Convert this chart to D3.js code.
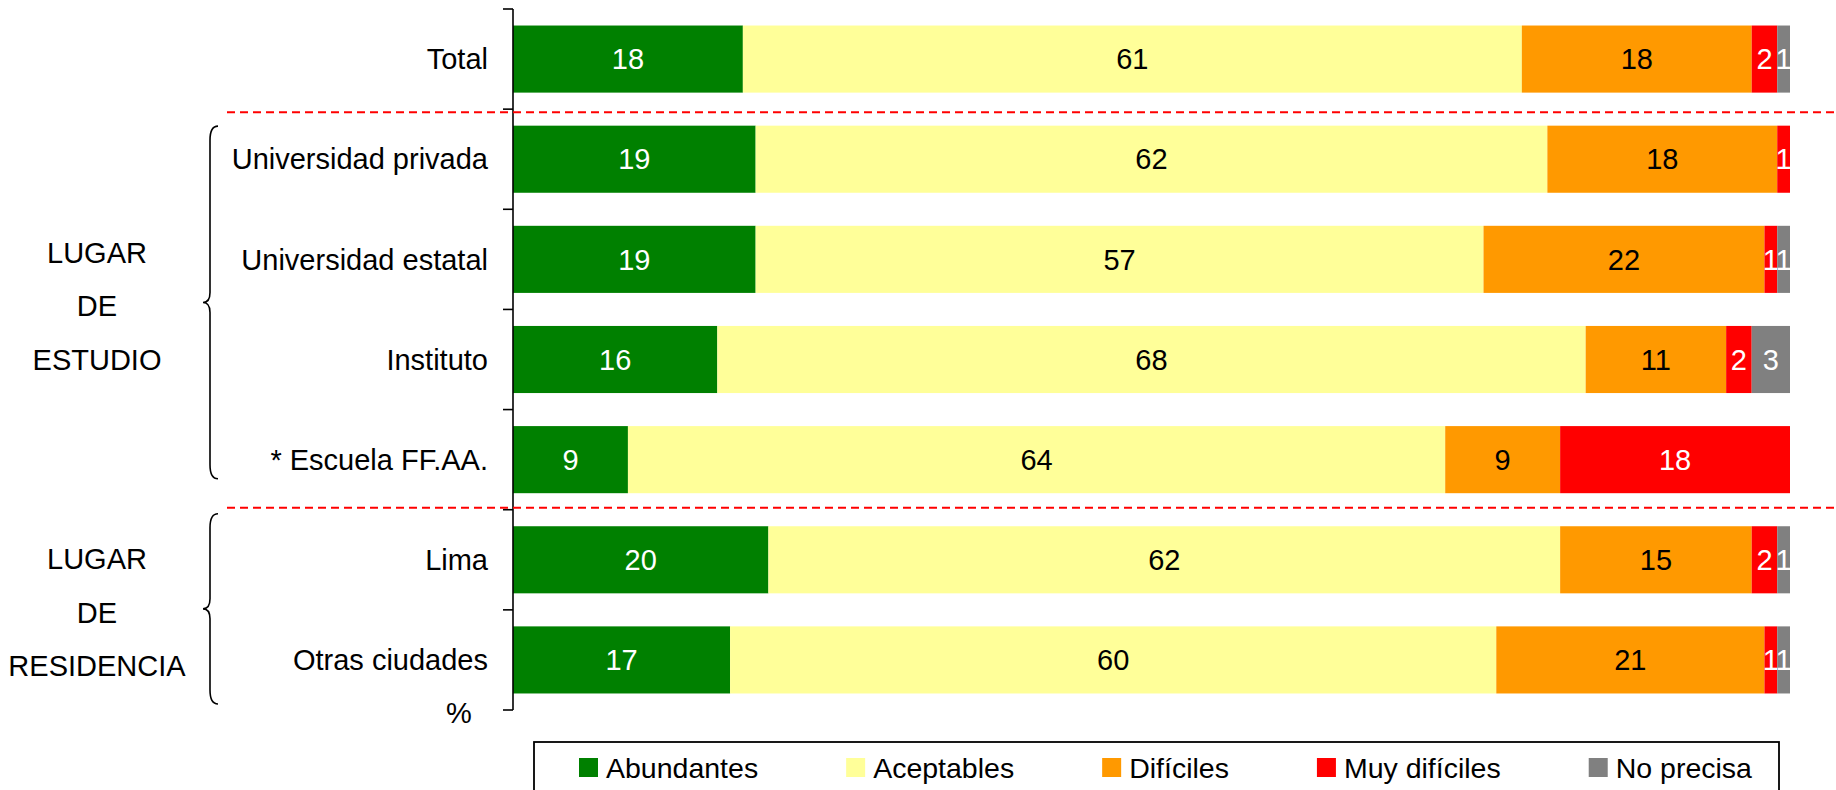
<!DOCTYPE html>
<html>
<head>
<meta charset="utf-8">
<script src="https://cdn.jsdelivr.net/npm/d3@7"></script>
<style>
  body { margin: 0; background: #fff; }
  text { font-family: "Liberation Sans", Arial, sans-serif; font-size: 29px; }
  .legend text { font-size: 28.5px; }
</style>
</head>
<body>
<script>
// categories (top to bottom)
var categories = ["Total", "Universidad privada", "Universidad estatal", "Instituto", "* Escuela FF.AA.", "Lima", "Otras ciudades"]
var series = ["Abundantes", "Aceptables", "Difíciles", "Muy difíciles", "No precisa"]
var colors = ["#008000", "#FFFF99", "#FF9900", "#FF0000", "#808080"]
var labelColors = ["#fff", "#000", "#000", "#fff", "#fff"]

// % values per series
var abundantes = [18, 19, 19, 16, 9, 20, 17]
var aceptables = [61, 62, 57, 68, 64, 62, 60]
var dificiles = [18, 18, 22, 11, 9, 15, 21]
var muyDificiles = [2, 1, 1, 2, 18, 2, 1]
var noPrecisa = [1, 0, 1, 3, 0, 1, 1]

// group brackets on the left
var groupLabels = [["LUGAR", "DE", "ESTUDIO"], ["LUGAR", "DE", "RESIDENCIA"]]
var groupStart = [1, 5]
var groupEnd = [4, 6]

function drawChart() {
  var svg = d3.select("body").append("svg")
    .attr("width", 1836)
    .attr("height", 790)

  var values = [abundantes, aceptables, dificiles, muyDificiles, noPrecisa]
  var table = categories.map(function(c, i) {
    var row = { cat: c }
    series.forEach(function(s, j) { row[s] = values[j][i] })
    return row
  })
  var stacked = d3.stack().keys(series)(table)

  var x = d3.scaleLinear().domain([0, 100]).range([513, 1790])
  var y = d3.scaleBand()
    .domain(categories)
    .range([9, 710])
    .paddingInner(0.33)
    .paddingOuter(0.165)
  var step = y.step()
  function edge(i) { return y.range()[0] + i * step }

  // bars
  var layers = svg.append("g").selectAll("g")
    .data(stacked)
    .enter().append("g")
    .attr("fill", function(d, i) { return colors[i] })
  layers.selectAll("rect")
    .data(function(d) { return d })
    .enter().append("rect")
    .attr("x", function(d) { return x(d[0]) })
    .attr("y", function(d) { return y(d.data.cat) })
    .attr("width", function(d) { return x(d[1]) - x(d[0]) })
    .attr("height", y.bandwidth())

  // value labels
  layers.each(function(layer, i) {
    d3.select(this).selectAll("text")
      .data(layer.filter(function(d) { return d[1] - d[0] > 0 }))
      .enter().append("text")
      .attr("x", function(d) { return (x(d[0]) + x(d[1])) / 2 })
      .attr("y", function(d) { return y(d.data.cat) + y.bandwidth() / 2 })
      .attr("dy", "0.35em")
      .attr("text-anchor", "middle")
      .attr("fill", labelColors[i])
      .text(function(d) { return d[1] - d[0] })
  })

  // axis line + ticks at band edges
  var axis = svg.append("g").attr("stroke", "#000").attr("stroke-width", 1.6)
  axis.append("line")
    .attr("x1", x(0)).attr("x2", x(0))
    .attr("y1", edge(0)).attr("y2", edge(categories.length))
  axis.selectAll(".tick")
    .data(d3.range(categories.length + 1))
    .enter().append("line")
    .attr("class", "tick")
    .attr("x1", x(0) - 10).attr("x2", x(0))
    .attr("y1", function(d) { return edge(d) })
    .attr("y2", function(d) { return edge(d) })

  // category labels
  svg.append("g").selectAll("text")
    .data(categories)
    .enter().append("text")
    .attr("x", x(0) - 25)
    .attr("y", function(d) { return y(d) + y.bandwidth() / 2 })
    .attr("dy", "0.35em")
    .attr("text-anchor", "end")
    .text(function(d) { return d })

  svg.append("text")
    .attr("x", 459)
    .attr("y", 723)
    .attr("text-anchor", "middle")
    .text("%")

  // red dashed separators
  svg.append("g").selectAll("line")
    .data([edge(1) + 3, edge(5) - 2])
    .enter().append("line")
    .attr("x1", 227).attr("x2", 1836)
    .attr("y1", function(d) { return d })
    .attr("y2", function(d) { return d })
    .attr("stroke", "#FF0000")
    .attr("stroke-width", 2)
    .attr("stroke-dasharray", "8,5")

  // braces + group labels
  var braceTop = [edge(groupStart[0]) + 17, edge(groupStart[1]) + 4]
  var braceBot = [edge(groupEnd[0] + 1) - 31, edge(groupEnd[1] + 1) - 6]
  var bx = 210
  groupLabels.forEach(function(lines, g) {
    var t = braceTop[g], b = braceBot[g], m = (t + b) / 2
    var p = "M" + (bx + 8) + "," + t +
      " Q" + bx + "," + t + " " + bx + "," + (t + 14) +
      " L" + bx + "," + (m - 10) +
      " Q" + bx + "," + m + " " + (bx - 7) + "," + m +
      " Q" + bx + "," + m + " " + bx + "," + (m + 10) +
      " L" + bx + "," + (b - 14) +
      " Q" + bx + "," + b + " " + (bx + 8) + "," + b
    svg.append("path")
      .attr("d", p)
      .attr("fill", "none")
      .attr("stroke", "#000")
      .attr("stroke-width", 1.6)
    svg.append("g").selectAll("text")
      .data(lines)
      .enter().append("text")
      .attr("x", 97)
      .attr("y", function(d, i) { return m + 14 + (i - 1) * 53.5 })
      .attr("text-anchor", "middle")
      .text(function(d) { return d })
  })

  // legend
  var legend = svg.append("g").attr("class", "legend")
  legend.append("rect")
    .attr("x", 534).attr("y", 742)
    .attr("width", 1245).attr("height", 80)
    .attr("fill", "#fff")
    .attr("stroke", "#000")
    .attr("stroke-width", 1.8)
  var lx = 579
  series.forEach(function(s, i) {
    var item = legend.append("g").attr("transform", "translate(" + lx + ",0)")
    item.append("rect")
      .attr("x", 0).attr("y", 758)
      .attr("width", 19).attr("height", 19)
      .attr("fill", colors[i])
    var t = item.append("text")
      .attr("x", 27).attr("y", 778)
      .text(s)
    lx += 27 + t.node().getComputedTextLength() + 88
  })
}
drawChart()
</script>
</body>
</html>
